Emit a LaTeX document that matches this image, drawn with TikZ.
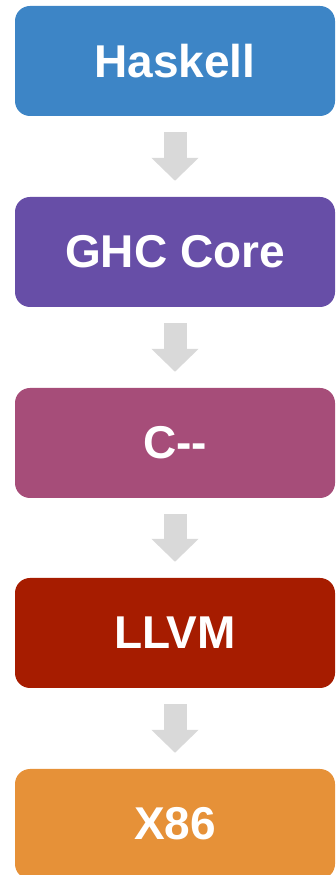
\documentclass[tikz,border=0pt]{standalone}
\usepackage{fontspec}
\setmainfont{Liberation Sans}
\usetikzlibrary{arrows.meta,calc}
\definecolor{hsblue}{HTML}{3D85C6}
\definecolor{corepurple}{HTML}{674EA7}
\definecolor{cmmmagenta}{HTML}{A64D79}
\definecolor{llvmred}{HTML}{A61C00}
\definecolor{xorange}{HTML}{E69138}
\definecolor{flowgray}{HTML}{D9D9D9}
\tikzset{
  x=1pt, y=1pt,
  stage/.style={rounded corners=15pt, minimum width=320pt, minimum height=110pt,
    inner sep=0pt, text=white, font=\fontsize{46}{50}\selectfont\bfseries},
  flow/.style={draw=flowgray, line width=23pt,
    -{Triangle[width=46pt,length=23pt]}, shorten <=16pt, shorten >=16pt}
}
\begin{document}
\begin{tikzpicture}
\useasboundingbox (0,0) rectangle (336,875);
\node[stage, fill=hsblue]     (hs)   at (175,814) {Haskell};
\node[stage, fill=corepurple] (core) at (175,623) {GHC Core};
\node[stage, fill=cmmmagenta] (cmm)  at (175,432) {C-{}-};
\node[stage, fill=llvmred]    (llvm) at (175,242) {LLVM};
\node[stage, fill=xorange]    (x86)  at (175,51)  {X86};
\draw[flow] (hs.south) -- (core.north);
\draw[flow] (core.south) -- (cmm.north);
\draw[flow] (cmm.south) -- (llvm.north);
\draw[flow] (llvm.south) -- (x86.north);
\end{tikzpicture}
\end{document}
